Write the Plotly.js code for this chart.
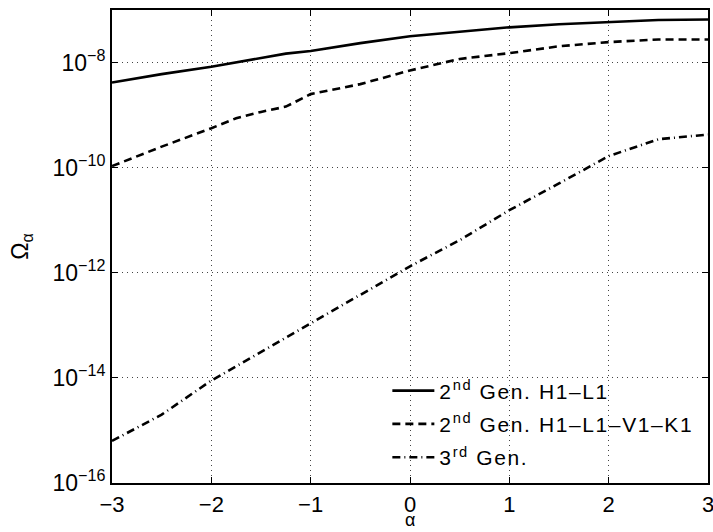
<!DOCTYPE html>
<html>
<head>
<meta charset="utf-8">
<script src="https://cdn.plot.ly/plotly-3.0.1.min.js"></script>
<style>html,body{margin:0;padding:0;background:#fff;}#chart{width:713px;height:532px;}
.legendtext{letter-spacing:1.6px;}</style>
</head>
<body>
<div id="chart"></div>
<script>
const alpha = [-3, -2.5, -2, -1.75, -1.5, -1.25, -1, -0.5, 0, 0.5, 1, 1.5, 2, 2.5, 3];
const omegaH1L1 = [4.17e-9, 6.03e-9, 8.32e-9, 1.0e-8, 1.20e-8, 1.48e-8, 1.66e-8, 2.34e-8, 3.16e-8, 3.89e-8, 4.68e-8, 5.37e-8, 5.89e-8, 6.46e-8, 6.61e-8];
const omegaH1L1V1K1 = [1.07e-10, 2.51e-10, 5.62e-10, 8.71e-10, 1.15e-9, 1.45e-9, 2.51e-9, 3.89e-9, 7.08e-9, 1.17e-8, 1.51e-8, 2.04e-8, 2.45e-8, 2.75e-8, 2.75e-8];
const omega3rd = [6.31e-16, 2.0e-15, 8.91e-15, 1.66e-14, 3.16e-14, 5.89e-14, 1.10e-13, 3.80e-13, 1.33e-12, 4.17e-12, 1.55e-11, 5.01e-11, 1.66e-10, 3.47e-10, 4.27e-10];
const seriesNames = ["2<sup>nd</sup> Gen. H1–L1", "2<sup>nd</sup> Gen. H1–L1–V1–K1", "3<sup>rd</sup> Gen."];
const xTicks = [-3, -2, -1, 0, 1, 2, 3];
const yTickVals = [1e-16, 1e-14, 1e-12, 1e-10, 1e-8];
const yTickText = ["10<sup>−16</sup>", "10<sup>−14</sup>", "10<sup>−12</sup>", "10<sup>−10</sup>", "10<sup>−8</sup>"];
const xTitle = "α";

const font = "Liberation Sans, Arial, Helvetica, sans-serif";
const traces = [
  {x: alpha, y: omegaH1L1, name: seriesNames[0], legendgroup: "a", mode: "lines", line: {color: "#000", width: 2.6}},
  {x: alpha, y: omegaH1L1V1K1, name: seriesNames[1], legendgroup: "b", mode: "lines", line: {color: "#000", width: 2.6, dash: "8px,5px"}},
  {x: alpha, y: omega3rd, name: seriesNames[2], legendgroup: "c", mode: "lines", line: {color: "#000", width: 2.6, dash: "8px,4px,1px,4px"}}
];
const layout = {
  width: 713, height: 532,
  margin: {l: 112, r: 5, t: 10, b: 49},
  paper_bgcolor: "#fff", plot_bgcolor: "#fff",
  font: {family: font, size: 22, color: "#000"},
  showlegend: true,
  legend: {x: 0.462, y: 0.238, xanchor: "left", yanchor: "top", bgcolor: "rgba(0,0,0,0)", borderwidth: 0,
           itemwidth: 42, font: {family: font, size: 21, color: "#000"}, tracegroupgap: 3},
  xaxis: {
    range: [-3, 3], tickmode: "array", tickvals: xTicks,
    ticks: "inside", ticklen: 6, tickwidth: 1, tickcolor: "#000",
    showline: true, linecolor: "#000", linewidth: 2, mirror: "allticks",
    showgrid: true, gridcolor: "#444", gridwidth: 1, griddash: "1px,4px",
    zeroline: false, ticklabeloverflow: "allow", ticklabelstandoff: 1,
    tickfont: {family: font, size: 22}
  },
  yaxis: {
    type: "log", range: [-16, -7], tickmode: "array", tickvals: yTickVals, ticktext: yTickText,
    ticks: "inside", ticklen: 6, tickwidth: 1, tickcolor: "#000",
    showline: true, linecolor: "#000", linewidth: 2, mirror: "allticks",
    showgrid: true, gridcolor: "#444", gridwidth: 1, griddash: "1px,4px",
    zeroline: false, ticklabelstandoff: 0,
    tickfont: {family: font, size: 23},
    title: {text: "Ω<sub>α</sub>", font: {family: font, size: 23}, standoff: 17}
  },
  annotations: [
    {text: xTitle, xref: "paper", yref: "paper", x: 0.5, y: -0.1005, xanchor: "center", yanchor: "bottom",
     showarrow: false, borderpad: 0, font: {family: font, size: 18, color: "#000"}}
  ]
};
Plotly.newPlot("chart", traces, layout, {displayModeBar: false, staticPlot: true});
</script>
</body>
</html>
